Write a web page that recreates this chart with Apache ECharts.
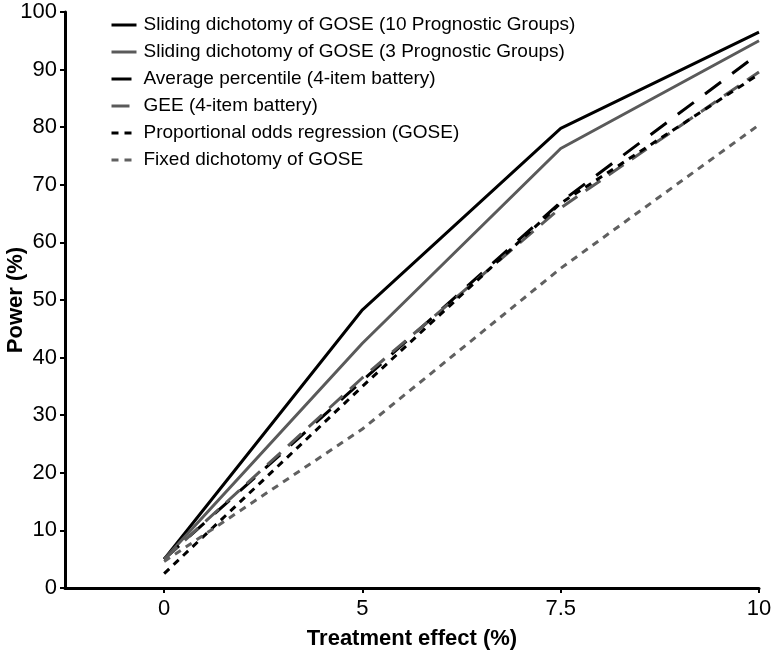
<!DOCTYPE html>
<html>
<head>
<meta charset="utf-8">
<script src="https://cdn.jsdelivr.net/npm/echarts@6/dist/echarts.min.js"></script>
<style>
  html, body { margin: 0; padding: 0; background: #fff; }
  #chart { width: 771px; height: 654px; }
</style>
</head>
<body>
<div id="chart"></div>
<script>
// x categories (equally spaced on the axis)
const xLabels = ['0', '5', '7.5', '10']

// power (%) per treatment effect
const slidingTen = [5, 48.3, 79.8, 96.5]
const slidingThree = [5, 42.5, 76.3, 95]
const avgPercentile = [5, 36, 67, 92.8]
const gee = [5, 36.5, 66, 89.6]
const propOdds = [2.5, 35, 66.8, 89.2]
const fixedDich = [4.6, 27.6, 55.5, 80.4]

const seriesNames = [
  'Sliding dichotomy of GOSE (10 Prognostic Groups)',
  'Sliding dichotomy of GOSE (3 Prognostic Groups)',
  'Average percentile (4-item battery)',
  'GEE (4-item battery)',
  'Proportional odds regression (GOSE)',
  'Fixed dichotomy of GOSE',
]

const FONT = '"Liberation Sans", Arial, sans-serif'
const GREY = '#5a5a5a'

function toPoints(vals) {
  return vals.map((v, i) => [i, v])
}

function lineSeries(name, vals, color, type) {
  return {
    name: name,
    type: 'line',
    data: toPoints(vals),
    symbol: 'none',
    lineStyle: { color: color, width: 3, type: type },
    itemStyle: { color: color },
  }
}

const chart = echarts.init(document.getElementById('chart'))
chart.setOption({
  animation: false,
  textStyle: { fontFamily: FONT },
  grid: { left: 65, right: 12, top: 12, bottom: 66, containLabel: false, outerBoundsMode: 'none' },
  legend: {
    orient: 'vertical',
    left: 105,
    top: 10,
    itemWidth: 25,
    itemHeight: 12,
    itemGap: 7,
    itemStyle: { opacity: 0 },
    lineStyle: { width: 3 },
    textStyle: { fontSize: 19, color: '#000', fontFamily: FONT, lineHeight: 20, padding: [0, 0, 0, 2] },
    data: seriesNames,
  },
  xAxis: {
    type: 'value',
    min: -0.5,
    max: 3,
    name: 'Treatment effect (%)',
    nameLocation: 'middle',
    nameGap: 40,
    nameMoveOverlap: false,
    nameTextStyle: { fontSize: 22, fontWeight: 'bold', color: '#000', fontFamily: FONT },
    axisLine: { onZero: false, lineStyle: { color: '#000', width: 3 } },
    axisTick: { show: true, customValues: [0, 1, 2, 3], length: 5, lineStyle: { color: '#000', width: 2 } },
    axisLabel: {
      customValues: [0, 1, 2, 3],
      formatter: v => xLabels[Math.round(v)],
      fontSize: 22,
      color: '#000',
      margin: 10,
    },
    splitLine: { show: false },
  },
  yAxis: {
    type: 'value',
    min: 0,
    max: 100,
    interval: 10,
    name: 'Power (%)',
    nameLocation: 'middle',
    nameGap: 38,
    nameMoveOverlap: false,
    nameTextStyle: { fontSize: 22, fontWeight: 'bold', color: '#000', fontFamily: FONT },
    axisLine: { show: true, onZero: false, lineStyle: { color: '#000', width: 3 } },
    axisTick: { show: true, length: 5, lineStyle: { color: '#000', width: 2 } },
    axisLabel: { fontSize: 22, color: '#000', margin: 8 },
    splitLine: { show: false },
  },
  series: [
    lineSeries(seriesNames[0], slidingTen, '#000', 'solid'),
    lineSeries(seriesNames[1], slidingThree, GREY, 'solid'),
    lineSeries(seriesNames[2], avgPercentile, '#000', [20, 14]),
    lineSeries(seriesNames[3], gee, GREY, [18, 10]),
    lineSeries(seriesNames[4], propOdds, '#000', [7, 6]),
    lineSeries(seriesNames[5], fixedDich, '#606060', [7, 6]),
  ],
})
</script>
</body>
</html>
